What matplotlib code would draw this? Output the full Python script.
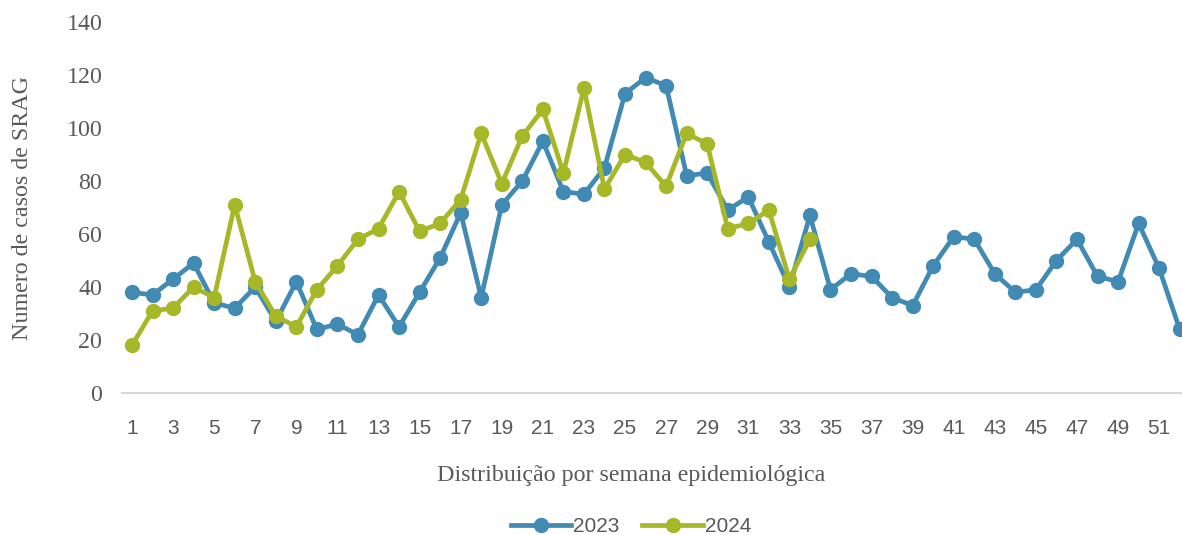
import matplotlib
matplotlib.use("Agg")
import matplotlib.pyplot as plt

# semanas epidemiologicas
weeks_2023 = list(range(1, 53))
cases_2023 = [38, 37, 43, 49, 34, 32, 40, 27, 42, 24,
              26, 22, 37, 25, 38, 51, 68, 36, 71, 80,
              95, 76, 75, 85, 113, 119, 116, 82, 83, 69,
              74, 57, 40, 67, 39, 45, 44, 36, 33, 48,
              59, 58, 45, 38, 39, 50, 58, 44, 42, 64,
              47, 24]

weeks_2024 = list(range(1, 35))
cases_2024 = [18, 31, 32, 40, 36, 71, 42, 29, 25, 39,
              48, 58, 62, 76, 61, 64, 73, 98, 79, 97,
              107, 83, 115, 77, 90, 87, 78, 98, 94, 62,
              64, 69, 43, 58]

xticks = list(range(1, 52, 2))
yticks = list(range(0, 141, 20))

BLUE = "#418AB3"
GREEN = "#A6B727"
TXT = "#595959"
SERIF = ["Liberation Serif", "DejaVu Serif"]
SANS = ["Liberation Sans Narrow", "Liberation Sans", "DejaVu Sans"]

W, H = 1182, 535
fig = plt.figure(figsize=(W / 100, H / 100), dpi=100)

# plot area in pixels: x 0.5 -> 121.7px, x 52.5 -> 1190px ; y 0 -> 393px, y 140 -> 22px
x0, x1 = 121.7, 1190.0
y0, y1 = 393.0, 22.0
ax = fig.add_axes([x0 / W, (H - y0) / H, (x1 - x0) / W, (y0 - y1) / H])
ax.set_xlim(0.5, 52.5)
ax.set_ylim(0, 140)

ax.plot(weeks_2023, cases_2023, color=BLUE, lw=3.4, marker="o", ms=10,
        label="2023", clip_on=False, zorder=3)
ax.plot(weeks_2024, cases_2024, color=GREEN, lw=3.4, marker="o", ms=10,
        label="2024", clip_on=False, zorder=4)

for s in ["top", "right", "left"]:
    ax.spines[s].set_visible(False)
ax.spines["bottom"].set_color("#D9D9D9")
ax.spines["bottom"].set_linewidth(1.5)

ax.set_xticks(xticks)
ax.set_xticklabels([str(t) for t in xticks], fontsize=15, color=TXT, family=SANS)
ax.set_yticks(yticks)
ax.set_yticklabels([str(t) for t in yticks], fontsize=17.3, color=TXT, family=SERIF)
ax.tick_params(axis="both", length=0)
ax.tick_params(axis="x", pad=19)
ax.tick_params(axis="y", pad=14)

ax.set_xlabel("Distribuição por semana epidemiológica", fontsize=17.3, color=TXT,
              family=SERIF)
# the plot area runs past the right edge of the picture, so centre the label on the visible part
ax.xaxis.set_label_coords((631 - x0) / (x1 - x0), -(475 - y0) / (y0 - y1), transform=ax.transAxes)
ax.xaxis.label.set_va("center")
ax.set_ylabel("Numero de casos de SRAG", fontsize=17.3, color=TXT,
              family=SERIF, labelpad=24)

leg = fig.legend(loc="center", bbox_to_anchor=(631 / W, 1 - 527 / H), ncol=2,
                 frameon=False, handlelength=2.9, columnspacing=1.1,
                 handletextpad=0.1, prop={"family": SANS, "size": 15})
for t in leg.get_texts():
    t.set_color(TXT)

fig.savefig("out.png", dpi=100)
